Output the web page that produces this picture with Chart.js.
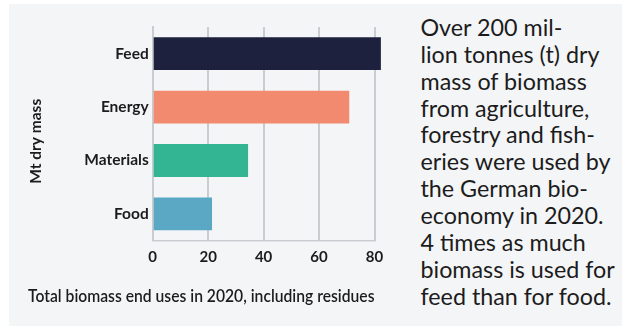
<!DOCTYPE html>
<html>
<head>
<meta charset="utf-8">
<script src="https://cdn.jsdelivr.net/npm/chart.js@4/dist/chart.umd.min.js"></script>
<style>
  html, body { margin: 0; padding: 0; background: #ffffff; }
  body { width: 622px; height: 326px; position: relative; overflow: hidden; font-family: Lato, "Noto Sans", sans-serif; }
  #panel { position: absolute; left: 9px; top: 4px; right: 0; bottom: 0; background: #f4f5f7; }
  #chartBox { position: absolute; left: 9px; top: 0; width: 398px; height: 320px; }
  #note {
    position: absolute; left: 420.5px; top: 13.8px;
    font-size: 23.3px; line-height: 26.9px; color: #1c1c1c; white-space: nowrap;
  }
</style>
</head>
<body>
<div id="panel"></div>
<div id="chartBox"><canvas id="chart"></canvas></div>
<div id="note">
  Over 200 mil-<br>
  lion tonnes (t) dry<br>
  mass of biomass<br>
  from agriculture,<br>
  forestry and fish-<br>
  eries were used by<br>
  the German bio-<br>
  economy in 2020.<br>
  4 times as much<br>
  biomass is used for<br>
  feed than for food.
</div>
<script>
// End uses of biomass, Mt dry mass
const categories = ['Feed', 'Energy', 'Materials', 'Food'];
const values = [82.3, 70.9, 34.4, 21.4];
const barColors = ['#1e213d', '#f28a70', '#33b594', '#5ba8c4'];
const xTicks = [0, 20, 40, 60, 80];

const axisTitle = 'Mt dry mass';
const caption = 'Total biomass end uses in 2020, including residues';

const gridGray = '#c9cdd1';
const textDark = '#1c1c1c';

// rotated y title, centred between the plot top and the x tick labels
const yTitlePlugin = {
  id: 'yTitle',
  afterDraw(chart) {
    const ctx = chart.ctx;
    const area = chart.chartArea;
    ctx.save();
    ctx.translate(26.7, (area.top + area.bottom + 15) / 2);
    ctx.rotate(-Math.PI / 2);
    ctx.font = 'bold 15.5px Lato';
    ctx.fillStyle = textDark;
    ctx.textAlign = 'center';
    ctx.textBaseline = 'middle';
    ctx.fillText(axisTitle, 0, 0);
    ctx.restore();
  }
};

new Chart(document.getElementById('chart'), {
  type: 'bar',
  data: {
    labels: categories,
    datasets: [{
      data: values,
      backgroundColor: barColors,
      borderWidth: 0,
      barPercentage: 0.615,
      categoryPercentage: 1,
      clip: false
    }]
  },
  plugins: [yTitlePlugin],
  options: {
    indexAxis: 'y',
    responsive: true,
    maintainAspectRatio: false,
    animation: false,
    layout: { padding: { left: 19, right: 32.5, top: 27, bottom: 13.2 } },
    plugins: {
      legend: { display: false },
      tooltip: { enabled: false },
      title: {
        display: true,
        position: 'bottom',
        align: 'start',
        text: caption,
        color: textDark,
        font: { family: 'Lato', size: 16.3, weight: '600', lineHeight: 1.2 },
        padding: { top: 13.7, bottom: 0 }
      }
    },
    scales: {
      x: {
        min: 0,
        max: 80,
        afterBuildTicks: (scale) => { scale.ticks = xTicks.map(v => ({ value: v })); },
        grid: { color: gridGray, lineWidth: 2, drawTicks: false },
        border: { display: true, color: gridGray, width: 1.5 },
        ticks: {
          color: textDark,
          padding: 7.5,
          font: { family: 'Lato', size: 15, weight: 'bold' }
        }
      },
      y: {
        afterFit: (scale) => { scale.width = 124.7; },
        grid: { display: false, drawTicks: false },
        border: { display: true, color: gridGray, width: 2 },
        ticks: {
          color: textDark,
          padding: 4,
          font: { family: 'Lato', size: 15.5, weight: 'bold' }
        }
      }
    }
  }
});
</script>
</body>
</html>
